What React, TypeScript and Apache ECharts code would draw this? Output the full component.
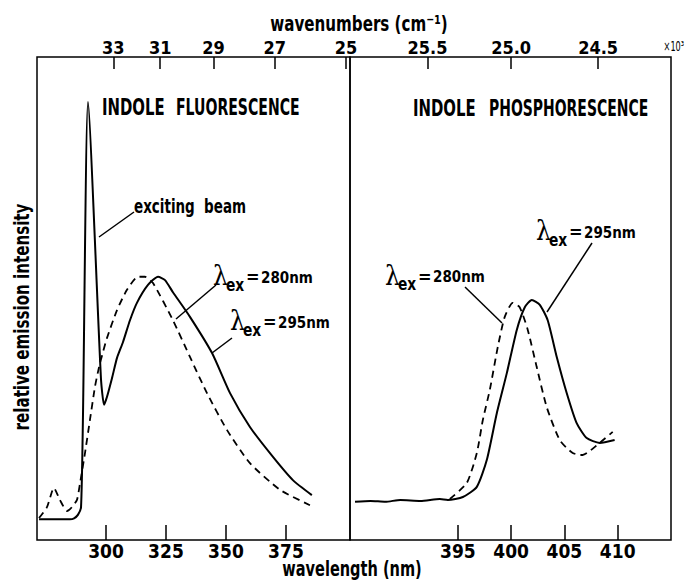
import React, { useEffect, useRef } from "react";
import * as echarts from "echarts";

// Indole fluorescence (left panel), wavelength in nm / relative intensity (0-100)
const fluorWl295 = [272.1, 285.0, 286.7, 288.3, 289.6, 290.4, 292.5, 297.9, 299.2, 300.4, 302.5, 304.6, 307.1, 310.0, 312.9, 317.5, 321.7, 324.6, 327.9, 335.0, 344.2, 351.7, 360.0, 369.6, 377.9, 385.8];
const fluorI295 = [4.3, 4.3, 4.5, 5.2, 6.8, 25.3, 90.7, 33.5, 28.0, 29.6, 33.5, 37.7, 41.0, 45.5, 49.1, 52.8, 54.5, 53.8, 51.3, 46.2, 38.7, 30.4, 23.4, 17.2, 12.4, 9.3];
const fluorWl280 = [272.1, 275.4, 278.3, 280.8, 283.75, 285.8, 287.9, 289.2, 291.25, 293.3, 295.4, 297.1, 298.75, 300.4, 304.6, 308.75, 313.3, 316.25, 319.6, 327.9, 335.0, 342.1, 350.4, 360.0, 372.5, 385.0];
const fluorI280 = [4.55, 6.8, 10.8, 8.3, 6.0, 6.8, 8.3, 11.8, 18.0, 24.8, 31.7, 35.8, 38.9, 41.8, 47.6, 51.8, 54.5, 54.5, 53.2, 45.5, 37.9, 30.4, 22.8, 15.9, 10.4, 7.2];

// Indole phosphorescence (right panel)
const phosWl295 = [385.35, 386.8, 388.2, 389.6, 391.5, 393.3, 394.06, 395.47, 396.78, 397.72, 398.66, 399.6, 400.53, 401.28, 401.94, 402.69, 403.43, 404.28, 405.22, 406.15, 407.09, 408.31, 409.71];
const phosI295 = [7.9, 8.1, 7.9, 8.3, 8.1, 8.5, 8.3, 8.9, 11.0, 16.6, 26.3, 34.6, 43.5, 48.2, 49.7, 48.7, 45.5, 37.9, 30.4, 24.2, 21.1, 20.1, 20.7];
const phosWl280 = [394.25, 395.84, 396.78, 397.34, 398.0, 398.75, 399.4, 400.15, 400.8, 401.56, 402.4, 403.34, 404.56, 405.78, 406.7, 408.3, 409.53];
const phosI280 = [8.5, 11.8, 18.0, 24.8, 31.1, 40.0, 46.2, 49.1, 48.2, 43.5, 35.8, 27.5, 20.7, 18.0, 17.6, 20.1, 22.4];

// axis ticks
const fluorTicks = [300, 325, 350, 375];
const phosTicks = [395, 400, 405, 410];
const fluorWavenumbers = [33, 31, 29, 27, 25]; // x10^3 cm^-1
const phosWavenumbers = [25.5, 25.0, 24.5]; // x10^3 cm^-1

const zip = (xs: number[], ys: number[]) => xs.map((x, i) => [x, ys[i]]);
const wnToNm = (k: number) => 1e4 / k;

const NARROW = '"Liberation Sans Narrow", "DejaVu Sans Condensed", sans-serif';
const COND = '"DejaVu Sans Condensed", "Liberation Sans Narrow", sans-serif';

function txt(text: string, x: number, y: number, opts: any = {}) {
  const { scaleX = 1, rotation = 0, align = "left", size = 20, family = COND, weight = "bold" } = opts;
  return {
    type: "text",
    x,
    y,
    scaleX,
    rotation,
    silent: true,
    style: {
      text,
      fill: "#000",
      fontSize: size,
      fontFamily: family,
      fontWeight: weight,
      textAlign: align,
      textVerticalAlign: "middle",
    },
  };
}

function line(x1: number, y1: number, x2: number, y2: number) {
  return {
    type: "line",
    silent: true,
    shape: { x1, y1, x2, y2 },
    style: { stroke: "#000", lineWidth: 1.5 },
  };
}

function lambdaLabel(x0: number, y0: number, value: string) {
  return [
    txt("λ", x0, y0 - 2, { size: 28, family: '"DejaVu Serif", serif', weight: "normal", scaleX: 0.85 }),
    txt("ex", x0 + 13, y0 + 7.5, { size: 17, scaleX: 0.9 }),
    txt("=", x0 + 33, y0 - 1, { size: 18 }),
    txt(value, x0 + 48, y0, { size: 15 }),
  ];
}

export default function App() {
  const ref = useRef<HTMLDivElement>(null);
  useEffect(() => {
    if (!ref.current) return;
    const chart = echarts.init(ref.current, undefined, { renderer: "svg" });
    const tickLabel = (size: number, margin: number) => ({
      color: "#000",
      fontSize: size,
      fontFamily: NARROW,
      fontWeight: "bold",
      margin,
    });
    const tick = (len: number) => ({
      show: true,
      inside: true,
      length: len,
      lineStyle: { color: "#000", width: 1.5 },
    });
    const baseX = {
      type: "value",
      axisLine: { show: false },
      splitLine: { show: false },
    };
    const option: any = {
      animation: false,
      backgroundColor: "#fff",
      grid: [
        { left: 37, top: 57, width: 313, height: 483, show: true, borderColor: "#000", borderWidth: 1.5, backgroundColor: "transparent" },
        { left: 350, top: 57, width: 321, height: 483, show: true, borderColor: "#000", borderWidth: 1.5, backgroundColor: "transparent" },
      ],
      xAxis: [
        {
          ...baseX, gridIndex: 0, position: "bottom", min: 271.25, max: 401.7,
          axisTick: { ...tick(15), customValues: fluorTicks },
          axisLabel: { ...tickLabel(19, 1), customValues: fluorTicks },
        },
        {
          ...baseX, gridIndex: 0, position: "top", min: 271.25, max: 401.7,
          axisTick: { ...tick(12), customValues: fluorWavenumbers.map(wnToNm) },
          axisLabel: {
            ...tickLabel(18, 1),
            customValues: fluorWavenumbers.map(wnToNm),
            formatter: (v: number) => String(Math.round(1e4 / v)),
          },
        },
        {
          ...baseX, gridIndex: 1, position: "bottom", min: 384.88, max: 415,
          axisTick: { ...tick(15), customValues: phosTicks },
          axisLabel: { ...tickLabel(19, 1), customValues: phosTicks },
        },
        {
          ...baseX, gridIndex: 1, position: "top", min: 384.88, max: 415,
          axisTick: { ...tick(12), customValues: phosWavenumbers.map(wnToNm) },
          axisLabel: {
            ...tickLabel(18, 1),
            customValues: phosWavenumbers.map(wnToNm),
            formatter: (v: number) => (1e4 / v).toFixed(1),
          },
        },
      ],
      yAxis: [
        { type: "value", gridIndex: 0, min: 0, max: 100, show: false },
        { type: "value", gridIndex: 1, min: 0, max: 100, show: false },
      ],
      series: [
        {
          name: "fluorescence λex=295nm", type: "line", xAxisIndex: 0, yAxisIndex: 0,
          data: zip(fluorWl295, fluorI295), showSymbol: false, smooth: 0.2,
          lineStyle: { color: "#000", width: 2 },
        },
        {
          name: "fluorescence λex=280nm", type: "line", xAxisIndex: 0, yAxisIndex: 0,
          data: zip(fluorWl280, fluorI280), showSymbol: false, smooth: 0.2,
          lineStyle: { color: "#000", width: 1.8, type: [7, 5] },
        },
        {
          name: "phosphorescence λex=295nm", type: "line", xAxisIndex: 2, yAxisIndex: 1,
          data: zip(phosWl295, phosI295), showSymbol: false, smooth: 0.2,
          lineStyle: { color: "#000", width: 2 },
        },
        {
          name: "phosphorescence λex=280nm", type: "line", xAxisIndex: 2, yAxisIndex: 1,
          data: zip(phosWl280, phosI280), showSymbol: false, smooth: 0.2,
          lineStyle: { color: "#000", width: 1.8, type: [7, 5] },
        },
      ],
      graphic: [
        txt("wavenumbers (cm⁻¹)", 359, 23, { size: 21, align: "center", scaleX: 0.8 }),
        txt("×10³", 684, 46, { size: 14, weight: "normal", family: '"DejaVu Sans", sans-serif', scaleX: 0.58, align: "right" }),
        txt("wavelength (nm)", 352, 569, { size: 21, align: "center", scaleX: 0.77 }),
        txt("relative emission intensity", 21, 317, { size: 21, align: "center", rotation: Math.PI / 2, scaleX: 0.8 }),
        txt("INDOLE", 102, 107, { size: 23, scaleX: 0.72 }),
        txt("FLUORESCENCE", 176, 107, { size: 23, scaleX: 0.68 }),
        txt("INDOLE", 413, 108, { size: 23, scaleX: 0.72 }),
        txt("PHOSPHORESCENCE", 489, 108, { size: 23, scaleX: 0.675 }),
        txt("exciting  beam", 134, 206, { size: 20, scaleX: 0.75 }),
        line(134, 212, 99, 237),
        ...lambdaLabel(213, 277.5, "280nm"),
        line(216, 285, 176, 319),
        ...lambdaLabel(230, 322.5, "295nm"),
        line(232, 338, 212, 353),
        ...lambdaLabel(536, 232.5, "295nm"),
        line(592, 243, 547, 312),
        ...lambdaLabel(385, 277, "280nm"),
        line(465, 287, 502, 323),
      ],
    };
    chart.setOption(option);
    return () => chart.dispose();
  }, []);
  return (
    <div
      ref={ref}
      style={{ position: "absolute", left: 0, top: 0, width: 685, height: 580, background: "#fff" }}
    />
  );
}
